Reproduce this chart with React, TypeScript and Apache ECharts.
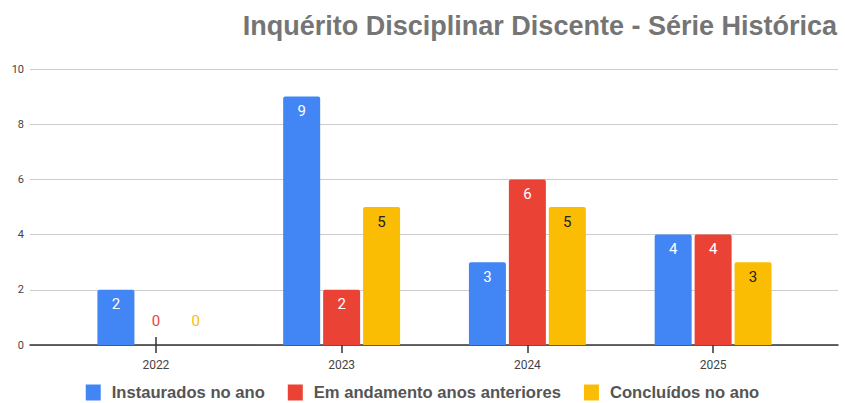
import React, { useEffect, useRef } from "react";
import * as echarts from "echarts";

const categories = ["2022", "2023", "2024", "2025"];
const seriesNames = ["Instaurados no ano", "Em andamento anos anteriores", "Concluídos no ano"];
const instaurados = [2, 9, 3, 4];
const emAndamento = [0, 2, 6, 4];
const concluidos = [0, 5, 5, 3];
const yTicks = [0, 2, 4, 6, 8, 10];

const colors = ["#4285F4", "#EA4335", "#FBBC04"];
const labelColors = ["#ffffff", "#ffffff", "#222222"];

export default function App() {
  const ref = useRef<HTMLDivElement>(null);
  useEffect(() => {
    document.body.style.margin = "0";
    const chart = echarts.init(ref.current!, null, { renderer: "svg" });
    const allData = [instaurados, emAndamento, concluidos];
    const series = allData.map((arr, i) => ({
      name: seriesNames[i],
      type: "bar",
      xAxisIndex: 0,
      yAxisIndex: 0,
      barWidth: 37,
      barGap: "8%",
      itemStyle: { color: colors[i], borderRadius: [2, 2, 0, 0] },
      label: {
        show: true,
        position: "insideTop",
        distance: 7,
        color: labelColors[i],
        fontFamily: "Roboto",
        fontSize: 15,
      },
      data: arr.map((v) =>
        v === 0
          ? { value: v, label: { position: "top", distance: 17, color: colors[i] } }
          : v
      ),
    }));
    chart.setOption({
      animation: false,
      title: {
        text: "Inquérito Disciplinar Discente - Série Histórica",
        right: 3,
        top: 7,
        textStyle: {
          fontFamily: "Liberation Sans",
          fontWeight: "bold",
          fontSize: 27,
          color: "#757575",
        },
      },
      legend: {
        bottom: 2,
        padding: 0,
        left: "center",
        itemWidth: 15,
        itemHeight: 16,
        itemGap: 23,
        icon: "rect",
        textStyle: {
          fontFamily: "Liberation Sans",
          fontSize: 16.6,
          fontWeight: "bold",
          color: "#555555",
          padding: [0, 0, 0, 6],
        },
        data: seriesNames,
      },
      grid: [
        { left: 63, right: 39, top: 69, bottom: 58 },
        { left: 30, right: 7, top: 69, bottom: 58 },
      ],
      xAxis: [
        {
          type: "category",
          gridIndex: 0,
          data: categories,
          axisLine: { show: false },
          axisTick: { show: true, alignWithLabel: true, length: 8, lineStyle: { color: "#333", width: 1.5 } },
          axisLabel: { fontFamily: "Roboto", fontSize: 12, color: "#444", margin: 14 },
        },
        {
          type: "category",
          gridIndex: 0,
          data: categories,
          position: "bottom",
          axisLine: { show: false },
          axisTick: { show: true, inside: true, alignWithLabel: true, length: 8, lineStyle: { color: "#333", width: 1.5 } },
          axisLabel: { show: false },
        },
        {
          type: "value",
          gridIndex: 1,
          min: 0,
          max: 1,
          axisLine: { show: true, lineStyle: { color: "#333", width: 1.5 } },
          axisTick: { show: false },
          axisLabel: { show: false },
          splitLine: { show: false },
        },
      ],
      yAxis: [
        {
          type: "value",
          gridIndex: 0,
          min: 0,
          max: 10,
          interval: 2,
          axisLabel: { show: false },
          axisLine: { show: false },
          axisTick: { show: false },
          splitLine: { show: false },
        },
        {
          type: "value",
          gridIndex: 1,
          min: yTicks[0],
          max: yTicks[yTicks.length - 1],
          interval: yTicks[1] - yTicks[0],
          axisLine: { show: false },
          axisTick: { show: false },
          axisLabel: { fontFamily: "Roboto", fontSize: 11, color: "#444", margin: 6 },
          splitLine: { lineStyle: { color: "#cccccc", width: 1 } },
        },
      ],
      series,
    });
    return () => chart.dispose();
  }, []);
  return <div ref={ref} style={{ width: 845, height: 403 }} />;
}
